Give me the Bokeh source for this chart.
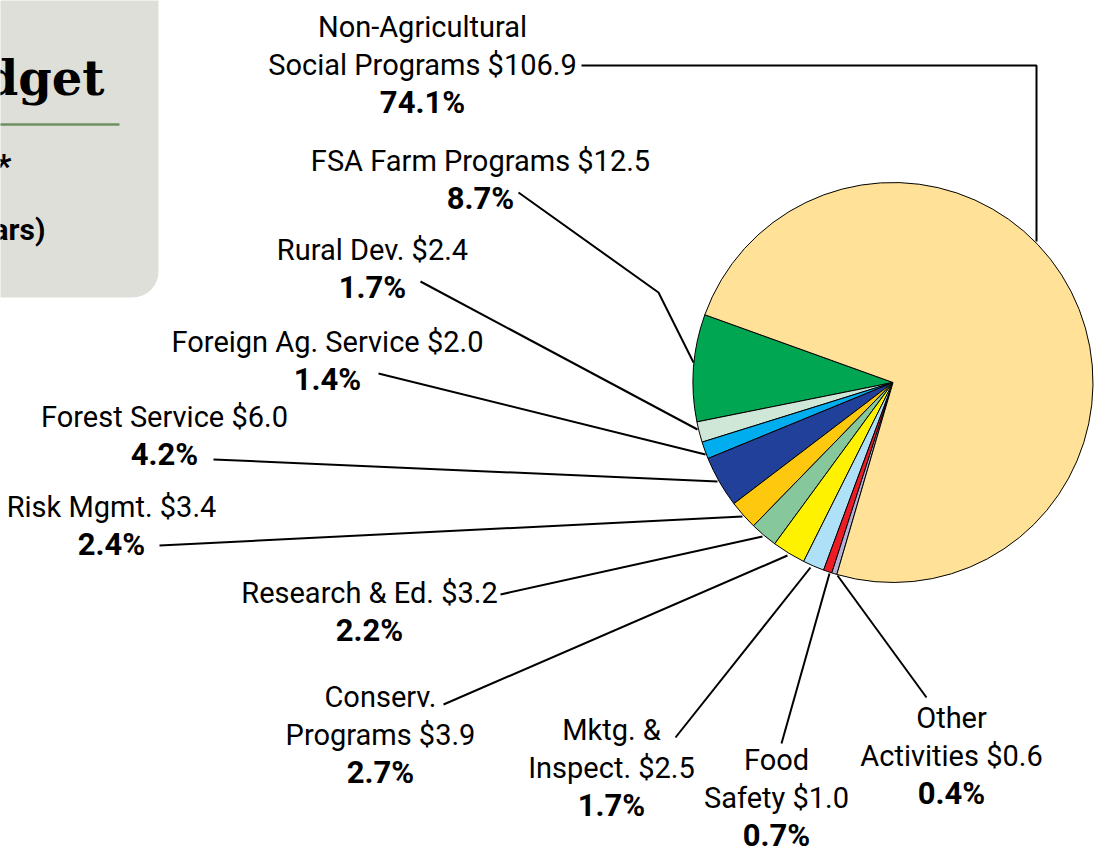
import numpy as np
from bokeh.plotting import figure
from bokeh.models import Range1d
from bokeh.core.properties import value
from bokeh.embed import file_html
from bokeh.resources import INLINE

# ---------------- data ----------------
names = ["FSA Farm Programs", "Rural Dev.", "Foreign Ag. Service", "Forest Service",
         "Risk Mgmt.", "Research & Ed.", "Conserv. Programs", "Mktg. & Inspect.",
         "Food Safety", "Other Activities", "Non-Agricultural Social Programs"]
values = [12.5, 2.4, 2.0, 6.0, 3.4, 3.2, 3.9, 2.5, 1.0, 0.6, 106.9]
percents = ["8.7%", "1.7%", "1.4%", "4.2%", "2.4%", "2.2%", "2.7%", "1.7%", "0.7%", "0.4%", "74.1%"]
colors = ["#00a651", "#cfe7d7", "#00aeef", "#21409a", "#fec80f", "#86c89c",
          "#fff200", "#aee1f8", "#ed1c24", "#b3b3da", "#ffe197"]

# how each name is broken into lines (the value goes on the last line)
name_lines = [["FSA Farm Programs"], ["Rural Dev."], ["Foreign Ag. Service"], ["Forest Service"],
              ["Risk Mgmt."], ["Research & Ed."], ["Conserv.", "Programs"], ["Mktg. &", "Inspect."],
              ["Food", "Safety"], ["Other", "Activities"], ["Non-Agricultural", "Social Programs"]]

# ---------------- layout (page pixel coordinates) ----------------
W, H = 1096, 861
def Y(v):
    return H - v

cx, cy, R = 892.5, 382, 200
start_deg = 160.2
TEXT_SHIFT = -11  # correction between requested and rendered baseline

# label center x and first baseline
label_pos = [(480, 171), (372, 260), (327, 352), (164, 427), (111, 517), (369, 603),
             (380, 707), (611, 740), (776, 770), (951, 728), (422, 37)]
line_gap = 38

leaders = [
    [(518, 192), (658, 292), (693, 362)],
    [(420, 281), (697, 429)],
    [(378, 373), (705, 454)],
    [(213, 459), (717, 481)],
    [(159, 545), (742, 516)],
    [(500, 594), (762, 536)],
    [(443, 704), (787, 555)],
    [(675, 737), (810, 567)],
    [(781, 743), (829, 573)],
    [(926, 697), (837, 575)],
    [(581, 65), (1036, 65), (1036, 241)],
]

FONT = "Roboto"
FS = "29px"
FS_BOLD = "31px"

p = figure(width=W, height=H, x_range=Range1d(0, W), y_range=Range1d(0, H),
           output_backend="svg", toolbar_location=None, x_axis_type=None, y_axis_type=None,
           min_border=0, outline_line_color=None, background_fill_color="white")
p.grid.visible = False

def TY(v):
    return Y(v + TEXT_SHIFT)

# title box (partially cropped)
p.quad(left=[-60], right=[158], top=[Y(-60)], bottom=[Y(297)], fill_color="#dfdfd9",
       line_color=None, border_radius=26)
p.segment(x0=[-10], y0=[Y(124)], x1=[119], y1=[Y(124)], line_color="#6e9160", line_width=2.5)
p.text(x=[104], y=[TY(88)], text=["Budget"], text_align="right", text_baseline="alphabetic",
       text_font=value("DejaVu Serif"), text_font_style="bold", text_font_size="48px",
       text_color="black")
p.text(x=[11], y=[TY(176)], text=["2007*"], text_align="right", text_baseline="alphabetic",
       text_font=value(FONT), text_font_style="bold", text_font_size="34px", text_color="black")
p.text(x=[45], y=[TY(240)], text=["(billion dollars)"], text_align="right", text_baseline="alphabetic",
       text_font=value(FONT), text_font_style="bold", text_font_size="30px", text_color="black")

# leader lines
xs = [[pt[0] for pt in L] for L in leaders]
ys = [[Y(pt[1]) for pt in L] for L in leaders]
p.multi_line(xs=xs, ys=ys, line_color="black", line_width=2)

# pie
vals = np.array(values, dtype=float)
angles = vals / vals.sum() * 2 * np.pi
ends = np.deg2rad(start_deg) + np.cumsum(angles)
starts = ends - angles
p.wedge(x=cx, y=Y(cy), radius=R, radius_units="screen", start_angle=starts, end_angle=ends,
        direction="anticlock", fill_color=colors, line_color="black", line_width=1)

# labels
tx, ty, tt, bx, by, bt = [], [], [], [], [], []
for i, name in enumerate(names):
    lx, lb = label_pos[i]
    lines = list(name_lines[i])
    lines[-1] = f"{lines[-1]} ${values[i]:.1f}"
    for k, ln in enumerate(lines):
        tx.append(lx); ty.append(TY(lb + k * line_gap)); tt.append(ln)
    bx.append(lx); by.append(TY(lb + len(lines) * line_gap)); bt.append(percents[i])

p.text(x=tx, y=ty, text=tt, text_align="center", text_baseline="alphabetic",
       text_font=value(FONT), text_font_size=FS, text_color="black")
p.text(x=bx, y=by, text=bt, text_align="center", text_baseline="alphabetic",
       text_font=value(FONT), text_font_style="bold", text_font_size=FS_BOLD, text_color="black")

open("out.html", "w").write(file_html(p, INLINE))
